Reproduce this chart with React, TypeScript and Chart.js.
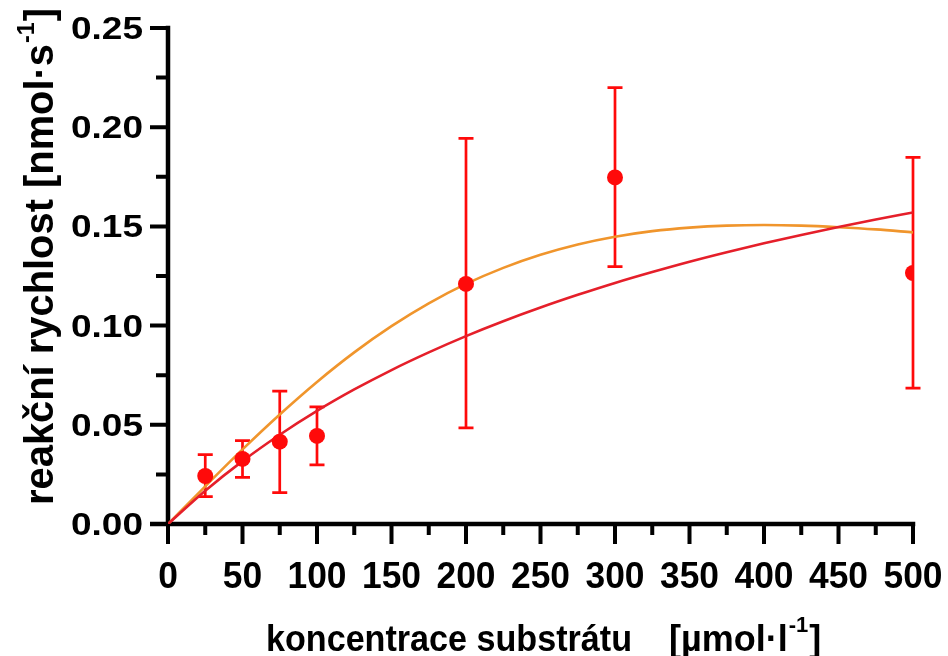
import React, { useEffect, useRef } from 'react';
import { Chart, registerables } from 'chart.js';

Chart.register(...registerables);

// Measured points (substrate concentration, reaction rate) with error bar limits
const substrate = [25, 50, 75, 100, 200, 300, 500];
const rate = [0.0242, 0.0328, 0.0415, 0.0444, 0.121, 0.1747, 0.1265];
const rateLow = [0.0138, 0.0235, 0.0158, 0.0298, 0.0484, 0.1297, 0.0685];
const rateHigh = [0.035, 0.042, 0.067, 0.059, 0.1944, 0.2199, 0.1848];

// Fitted curves
const curveX = [0, 25, 50, 75, 100, 125, 150, 175, 200, 225, 250, 275, 300, 325, 350, 375, 400, 425, 450, 475, 500];
const fitRed = [0, 0.0168, 0.0317, 0.045, 0.057, 0.0678, 0.0776, 0.0865, 0.0947, 0.1022, 0.1091, 0.1155, 0.1215, 0.127, 0.1322, 0.137, 0.1415, 0.1457, 0.1497, 0.1535, 0.157];
const fitOrange = [0, 0.019, 0.0376, 0.0552, 0.0716, 0.0865, 0.0997, 0.1112, 0.121, 0.1291, 0.1357, 0.1409, 0.1448, 0.1476, 0.1494, 0.1504, 0.1507, 0.1504, 0.1496, 0.1485, 0.147];

const xTicks = [0, 50, 100, 150, 200, 250, 300, 350, 400, 450, 500];
const xMinor = [25, 75, 125, 175, 225, 275, 325, 375, 425, 475];
const yTicks = [0, 0.05, 0.1, 0.15, 0.2, 0.25];
const yMinor = [0.025, 0.075, 0.125, 0.175, 0.225];

const xTitleMain = 'koncentrace substrátu';
const xTitleUnit = '[µmol·l';
const yTitleMain = 'reakční rychlost [nmol·s';
const supText = '-1';
const closeBracket = ']';

const FONT = '"Liberation Sans", Arial, sans-serif';
const RED = '#ff0a0a';

const axesPlugin = {
  id: 'customAxes',
  beforeDatasetsDraw(chart: any) {
    const { ctx, chartArea, scales } = chart;
    const x = scales.x;
    const y = scales.y;
    const lw = 4.5;
    ctx.save();
    ctx.strokeStyle = '#000';
    ctx.lineWidth = lw;
    ctx.lineCap = 'butt';
    // axis lines
    ctx.beginPath();
    ctx.moveTo(chartArea.left, chartArea.top - lw / 2);
    ctx.lineTo(chartArea.left, chartArea.bottom);
    ctx.moveTo(chartArea.left - 18, chartArea.bottom);
    ctx.lineTo(chartArea.right + lw / 2, chartArea.bottom);
    ctx.stroke();
    ctx.lineWidth = 4;
    // y ticks
    ctx.beginPath();
    yTicks.forEach((v) => {
      const py = y.getPixelForValue(v);
      ctx.moveTo(chartArea.left - 18, py);
      ctx.lineTo(chartArea.left, py);
    });
    yMinor.forEach((v) => {
      const py = y.getPixelForValue(v);
      ctx.moveTo(chartArea.left - 12, py);
      ctx.lineTo(chartArea.left, py);
    });
    // x ticks
    xTicks.forEach((v) => {
      const px = x.getPixelForValue(v);
      ctx.moveTo(px, chartArea.bottom);
      ctx.lineTo(px, chartArea.bottom + 20);
    });
    xMinor.forEach((v) => {
      const px = x.getPixelForValue(v);
      ctx.moveTo(px, chartArea.bottom);
      ctx.lineTo(px, chartArea.bottom + 11);
    });
    ctx.stroke();
    ctx.restore();
  },
};

const errorBarPlugin = {
  id: 'errorBars',
  beforeDatasetsDraw(chart: any) {
    const { ctx, scales } = chart;
    const x = scales.x;
    const y = scales.y;
    ctx.save();
    ctx.strokeStyle = RED;
    ctx.lineWidth = 2.7;
    ctx.beginPath();
    substrate.forEach((s, i) => {
      const px = x.getPixelForValue(s);
      const pLow = y.getPixelForValue(rateLow[i]);
      const pHigh = y.getPixelForValue(rateHigh[i]);
      ctx.moveTo(px, pLow);
      ctx.lineTo(px, pHigh);
      ctx.moveTo(px - 7.5, pLow);
      ctx.lineTo(px + 7.5, pLow);
      ctx.moveTo(px - 7.5, pHigh);
      ctx.lineTo(px + 7.5, pHigh);
    });
    ctx.stroke();
    ctx.restore();
  },
};

const textPlugin = {
  id: 'customText',
  afterDraw(chart: any) {
    const { ctx, chartArea, scales } = chart;
    const x = scales.x;
    const y = scales.y;
    ctx.save();
    ctx.fillStyle = '#000';
    ctx.textBaseline = 'alphabetic';

    // y tick labels
    ctx.font = `bold 32px ${FONT}`;
    const ySx = 72 / ctx.measureText('0.25').width;
    ctx.textAlign = 'right';
    yTicks.forEach((v) => {
      const py = y.getPixelForValue(v);
      ctx.save();
      ctx.translate(chartArea.left - 25, py + 11);
      ctx.scale(ySx, 1);
      ctx.fillText(v.toFixed(2), 0, 0);
      ctx.restore();
    });

    // x tick labels
    ctx.font = `bold 37px ${FONT}`;
    const xSx = 59 / ctx.measureText('100').width;
    ctx.textAlign = 'center';
    xTicks.forEach((v) => {
      const px = x.getPixelForValue(v);
      ctx.save();
      ctx.translate(px, 588);
      ctx.scale(xSx, 1);
      ctx.fillText(String(v), 0, 0);
      ctx.restore();
    });

    // x title
    ctx.textAlign = 'left';
    ctx.font = `bold 36px ${FONT}`;
    const w1 = ctx.measureText(xTitleMain).width;
    ctx.save();
    ctx.translate(266, 651);
    ctx.scale(366 / w1, 1);
    ctx.fillText(xTitleMain, 0, 0);
    ctx.restore();
    let cx = 669;
    ctx.fillText(xTitleUnit, cx, 651);
    cx += ctx.measureText(xTitleUnit).width + 1;
    ctx.font = `bold 22px ${FONT}`;
    ctx.fillText(supText, cx, 632);
    cx += ctx.measureText(supText).width + 1;
    ctx.font = `bold 36px ${FONT}`;
    ctx.fillText(closeBracket, cx, 651);

    // y title (rotated)
    const big = 41;
    const small = 24;
    ctx.font = `bold ${big}px ${FONT}`;
    const ym = ctx.measureText(yTitleMain).width;
    const yb = ctx.measureText(closeBracket).width;
    ctx.font = `bold ${small}px ${FONT}`;
    const ys = ctx.measureText(supText).width;
    const total = ym + ys + yb + 2;
    const sc = 497 / total;
    ctx.save();
    ctx.translate(53, 505);
    ctx.rotate(-Math.PI / 2);
    ctx.scale(sc, 1);
    ctx.font = `bold ${big}px ${FONT}`;
    ctx.fillText(yTitleMain, 0, 0);
    ctx.font = `bold ${small}px ${FONT}`;
    ctx.fillText(supText, ym + 1, -19);
    ctx.font = `bold ${big}px ${FONT}`;
    ctx.fillText(closeBracket, ym + ys + 2, 0);
    ctx.restore();

    ctx.restore();
  },
};

export default function App() {
  const canvasRef = useRef<HTMLCanvasElement | null>(null);

  useEffect(() => {
    if (!canvasRef.current) return;
    const chart = new Chart(canvasRef.current, {
      type: 'scatter',
      data: {
        datasets: [
          {
            type: 'scatter',
            label: 'měření',
            data: substrate.map((s, i) => ({ x: s, y: rate[i] })),
            pointRadius: 8,
            pointHoverRadius: 8,
            backgroundColor: RED,
            borderWidth: 0,
          } as any,
          {
            type: 'line',
            label: 'Michaelis-Menten',
            data: curveX.map((s, i) => ({ x: s, y: fitRed[i] })),
            borderColor: '#e51f2a',
            borderWidth: 2.6,
            pointRadius: 0,
            fill: false,
            cubicInterpolationMode: 'monotone',
          } as any,
          {
            type: 'line',
            label: 'substrátová inhibice',
            data: curveX.map((s, i) => ({ x: s, y: fitOrange[i] })),
            borderColor: '#f0952c',
            borderWidth: 2.6,
            pointRadius: 0,
            fill: false,
            cubicInterpolationMode: 'monotone',
          } as any,
        ],
      },
      options: {
        animation: false,
        responsive: true,
        maintainAspectRatio: false,
        layout: { padding: { left: 0, top: 28, right: 35, bottom: 0 } },
        plugins: {
          legend: { display: false },
          tooltip: { enabled: false },
        },
        scales: {
          x: {
            type: 'linear',
            min: 0,
            max: 500,
            grid: { display: false },
            border: { display: false },
            ticks: { display: false },
            afterFit: (s: any) => {
              s.height = 132;
            },
          },
          y: {
            type: 'linear',
            min: 0,
            max: 0.25,
            grid: { display: false },
            border: { display: false },
            ticks: { display: false },
            afterFit: (s: any) => {
              s.width = 168;
            },
          },
        },
      } as any,
      plugins: [axesPlugin, errorBarPlugin, textPlugin],
    });
    return () => chart.destroy();
  }, []);

  return (
    <div style={{ position: 'absolute', left: 0, top: 0, width: 948, height: 656, background: '#fff' }}>
      <canvas ref={canvasRef} />
    </div>
  );
}
